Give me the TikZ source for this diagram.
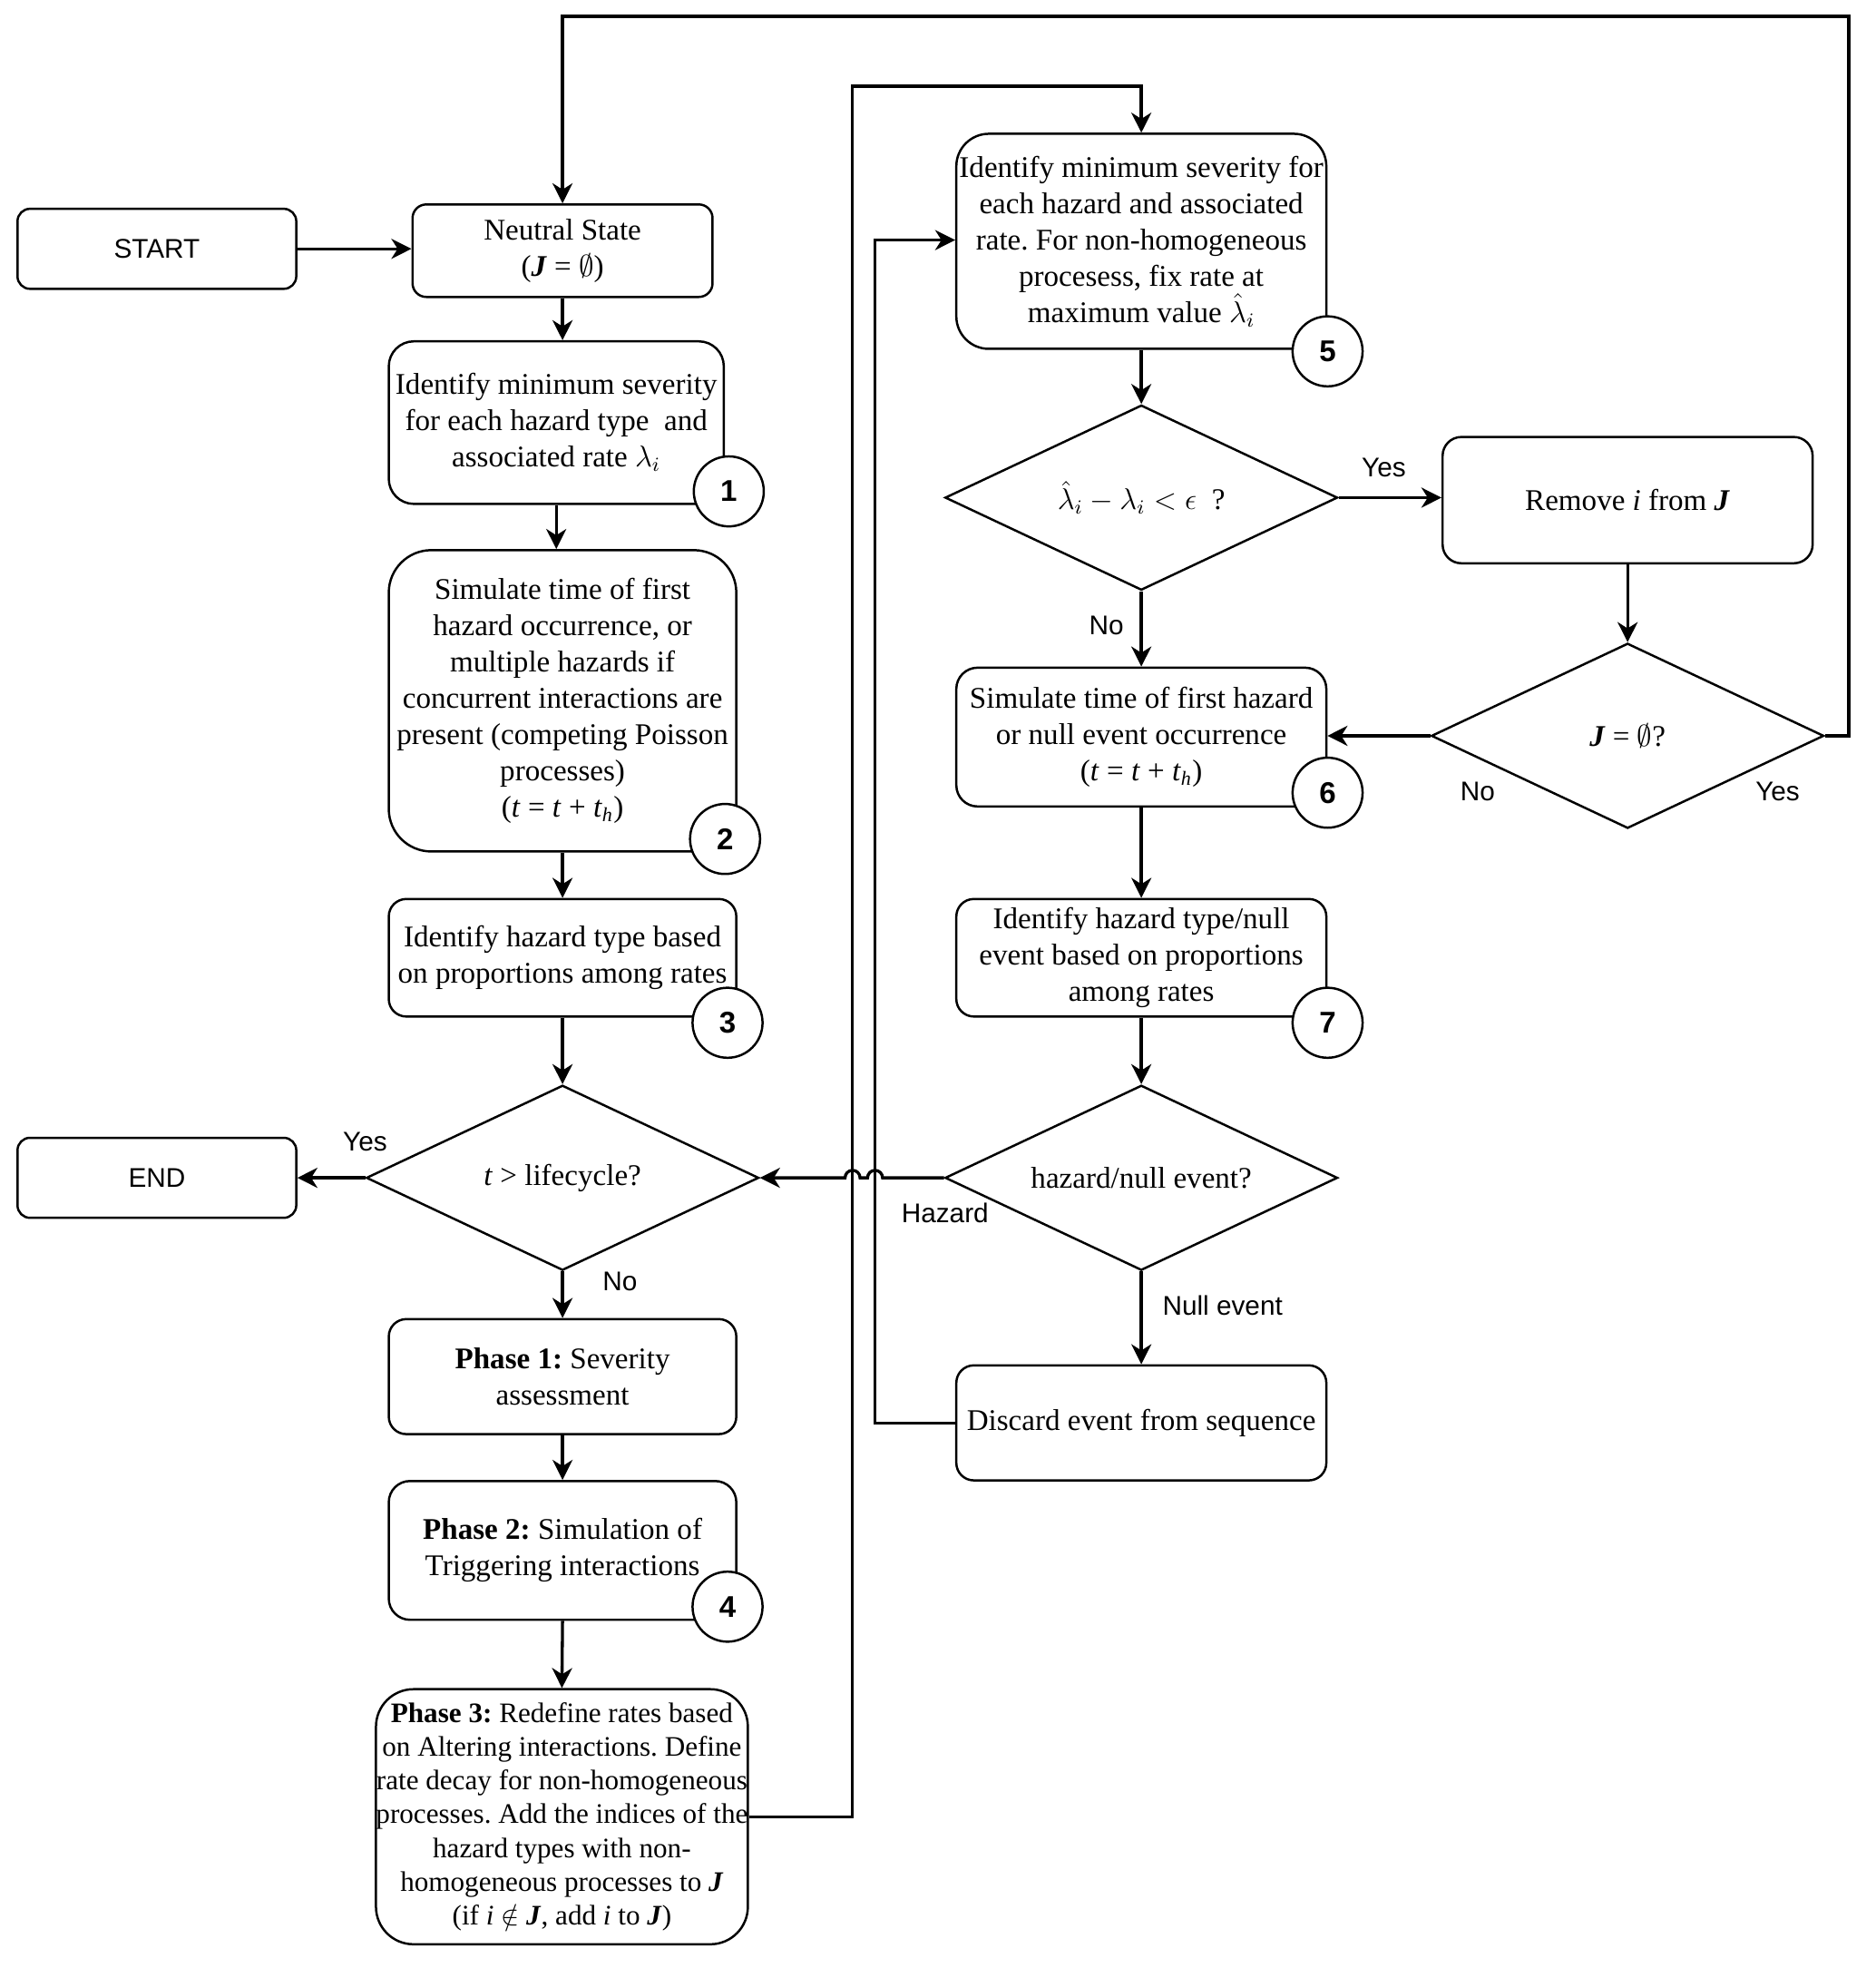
\documentclass[tikz,border=0pt]{standalone}
\usepackage{fontspec}
\setmainfont{Liberation Serif}
\newfontfamily\labfont{Liberation Sans}
\usetikzlibrary{shapes.geometric,arrows.meta}
\frenchspacing
\begin{document}
\begin{tikzpicture}[x=0.5pt,y=-0.5pt,
  box/.style={draw, line width=0.9pt, align=center, inner sep=1pt, font=\fontsize{12}{14.5}\selectfont},
  sbox/.style={draw, line width=0.9pt, align=center, inner sep=1pt, font=\labfont\fontsize{10.8}{13}\selectfont},
  diam/.style={draw, diamond, aspect=2.1, inner sep=0pt, line width=0.9pt, minimum width=157pt, minimum height=74pt, align=center, font=\fontsize{12}{14.5}\selectfont},
  num/.style={circle, draw, fill=white, line width=0.9pt, minimum size=28pt, inner sep=0pt, font=\labfont\bfseries\fontsize{12}{14}\selectfont},
  lab/.style={inner sep=0pt, font=\labfont\fontsize{10.8}{13}\selectfont},
  arr/.style={line width=1.2pt, -{Stealth[length=8pt, width=8pt, inset=2.5pt]}}
]
\useasboundingbox (0,0) rectangle (1500,1574);

% left column
\node[sbox, rounded corners=5pt, minimum width=111.5pt, minimum height=32pt] (start) at (125.5,199) {START};
\node[box, rounded corners=5.5pt, minimum width=120pt, minimum height=37pt] (neutral) at (450,200.5) {Neutral State\\(\textbf{\textit{J}} = $\emptyset$)};
\node[box, rounded corners=10pt, minimum width=134pt, minimum height=65pt] (b1) at (445,338) {Identify minimum severity\\for each hazard type\ \ and\\associated rate $\lambda_i$};
\node[box, rounded corners=17pt, minimum width=139pt, minimum height=120.5pt] (b2) at (450,560.5) {Simulate time of first\\hazard occurrence, or\\multiple hazards if\\concurrent interactions are\\present (competing Poisson\\processes)\\(\textit{t} = \textit{t} + \textit{t}\textsubscript{\textit{h}})};
\node[box, rounded corners=7pt, minimum width=139pt, minimum height=47pt] (b3) at (450,766) {Identify hazard type based\\on proportions among rates};
\node[diam] (dlife) at (450,942) {\textit{t} > lifecycle?};
\node[sbox, rounded corners=5pt, minimum width=111.5pt, minimum height=32pt] (end) at (125.5,942) {END};
\node[box, rounded corners=7pt, minimum width=139pt, minimum height=46pt] (p1) at (450,1101) {\textbf{Phase 1:} Severity\\assessment};
\node[box, rounded corners=8.5pt, minimum width=139pt, minimum height=55.5pt] (p2) at (450,1240) {\textbf{Phase 2:} Simulation of\\Triggering interactions};
\node[box, rounded corners=15pt, minimum width=148.5pt, minimum height=102pt, inner sep=0pt, font=\fontsize{11.3}{13.5}\selectfont] (p3) at (449.5,1453) {\textbf{Phase 3:} Redefine rates based\\on Altering interactions. Define\\rate decay for non-homogeneous\\processes. Add the indices of the\\hazard types with non-\\homogeneous processes to \textbf{\textit{J}}\\(if \textit{i} $\notin$ \textbf{\textit{J}}, add \textit{i} to \textbf{\textit{J}})};

% right column
\node[box, rounded corners=13pt, minimum width=148pt, minimum height=86pt] (b5) at (913,193) {Identify minimum severity for\\each hazard and associated\\rate. For non-homogeneous\\procesess, fix rate at\\maximum value $\hat{\lambda}_i$};
\node[diam] (dlam) at (913,398) {$\hat{\lambda}_i - \lambda_i < \epsilon$\ \ ?};
\node[box, rounded corners=7.5pt, minimum width=148pt, minimum height=50.5pt] (rem) at (1302,400) {Remove \textit{i} from \textbf{\textit{J}}};
\node[diam] (dJ) at (1302,588.5) {\textbf{\textit{J}} = $\emptyset$?};
\node[box, rounded corners=8.5pt, minimum width=148pt, minimum height=55.5pt] (b6) at (913,589.5) {Simulate time of first hazard\\or null event occurrence\\(\textit{t} = \textit{t} + \textit{t}\textsubscript{\textit{h}})};
\node[box, rounded corners=7pt, minimum width=148pt, minimum height=47pt] (b7) at (913,766) {Identify hazard type/null\\event based on proportions\\among rates};
\node[diam] (dhaz) at (913,942) {hazard/null event?};
\node[box, rounded corners=7pt, minimum width=148pt, minimum height=46pt] (disc) at (913,1138) {Discard event from sequence};

% connectors
\draw[arr] (start.east) -- (neutral.west |- start.east);
\draw[arr] (neutral.south) -- (neutral.south |- b1.north);
\draw[arr] (b1.south) -- (b1.south |- b2.north);
\draw[arr] (b2.south) -- (b3.north);
\draw[arr] (b3.south) -- (dlife.north);
\draw[arr] (dlife.west) -- (end.east);
\draw[arr] (dlife.south) -- (p1.north);
\draw[arr] (p1.south) -- (p2.north);
\draw[arr] (p2.south) -- (p3.north);
\draw[arr] (p3.east) -| (682,69) -| (b5.north);
\draw[arr] (b5.south) -- (dlam.north);
\draw[arr] (dlam.east) -- (rem.west |- dlam.east);
\draw[arr] (dlam.south) -- (b6.north);
\draw[arr] (rem.south) -- (rem.south |- dJ.north);
\draw[arr] (dJ.west) -- (b6.east |- dJ.west);
\draw[arr] (dJ.east) -| (1479,13) -| (neutral.north);
\draw[arr] (b6.south) -- (b7.north);
\draw[arr] (b7.south) -- (dhaz.north);
\draw[arr] (dhaz.south) -- (disc.north);
\coordinate (h1) at (706,942);
\coordinate (h2) at (688,942);
\draw[arr] (dhaz.west) -- (h1) arc[start angle=0, end angle=180, radius=3pt] -- (h2) arc[start angle=0, end angle=180, radius=3pt] -- (dlife.east);
\coordinate (b5in) at (700,192);
\draw[arr] (disc.west) -| (b5in) -- (b5.west |- b5in);

% step numbers
\node[num] (c1) at (583,393) {1};
\node[num] (c2) at (580,671) {2};
\node[num] (c3) at (582,818) {3};
\node[num] (c4) at (582,1285) {4};
\node[num] (c5) at (1062,281) {5};
\node[num] (c6) at (1062,634) {6};
\node[num] (c7) at (1062,818) {7};

% labels
\node[lab] (lyes1) at (292,913) {Yes};
\node[lab] (lno1) at (496,1025) {No};
\node[lab] (lyes2) at (1107,374) {Yes};
\node[lab] (lno2) at (885,500) {No};
\node[lab] (lno3) at (1182,633) {No};
\node[lab] (lyes3) at (1422,633) {Yes};
\node[lab] (lhaz) at (756,970) {Hazard};
\node[lab] (lnull) at (978,1044) {Null event};
\end{tikzpicture}
\end{document}
